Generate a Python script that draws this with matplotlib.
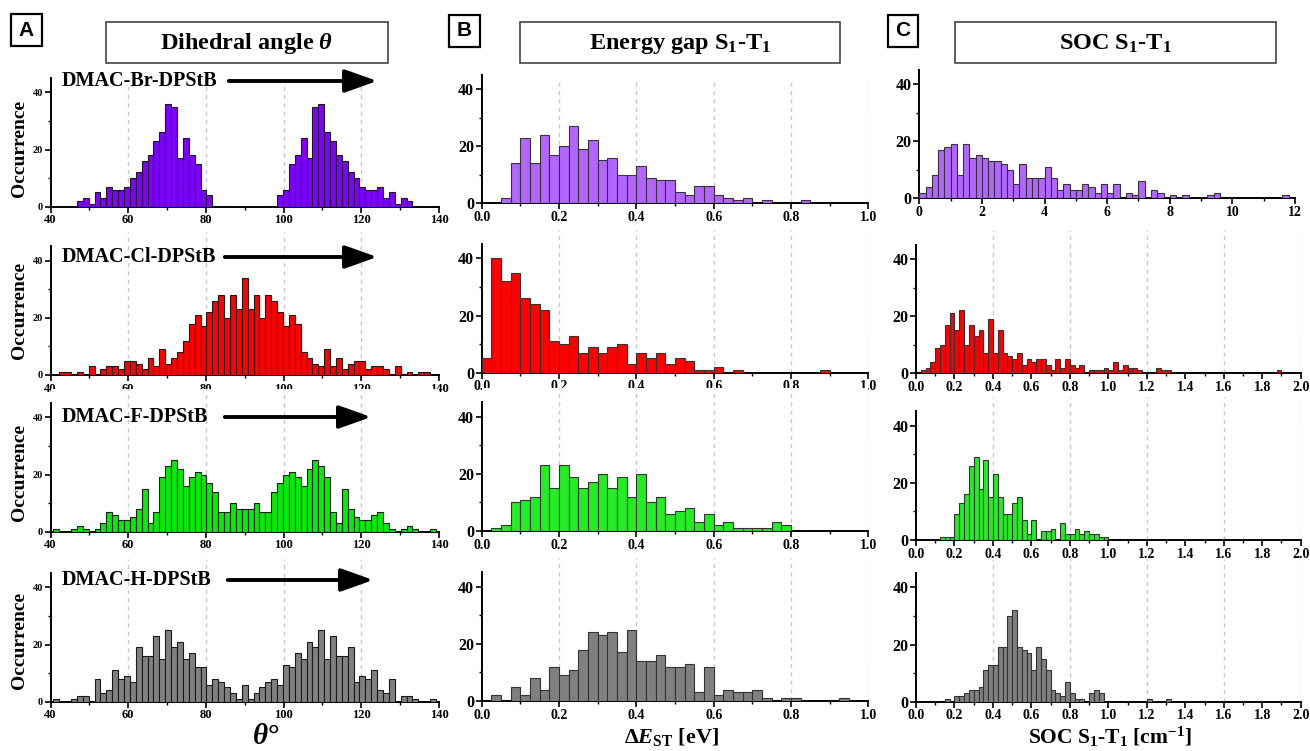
import numpy as np
import matplotlib
matplotlib.use("Agg")
import matplotlib.pyplot as plt
from matplotlib.patches import Rectangle, FancyArrowPatch
from matplotlib.ticker import MultipleLocator, FormatStrFormatter

# ---- data: histogram counts ---------------------------------------------
molecules = ["DMAC-Br-DPStB", "DMAC-Cl-DPStB", "DMAC-F-DPStB", "DMAC-H-DPStB"]

# dihedral angle, 65 bins starting at 40.75 deg, width ~1.515 deg
theta_bin0, theta_binw = 40.75, 1.515
theta_br = [0, 0, 0, 0, 2, 3, 1, 5, 3, 7, 6, 6, 7, 10, 12, 16, 18, 23, 26, 36, 35, 17, 24,
            18, 15, 6, 4, 0, 0, 0, 0, 0, 0, 0, 0, 0, 0, 0, 4, 6, 15, 18, 24, 17, 35, 36, 26,
            23, 18, 16, 12, 10, 7, 6, 6, 7, 3, 5, 1, 3, 2, 0, 0, 0, 0]
theta_cl = [0, 1, 1, 0, 1, 0, 3, 0, 2, 3, 3, 2, 5, 5, 4, 2, 6, 3, 9, 4, 6, 8, 12, 18, 21,
            17, 22, 26, 28, 20, 28, 23, 34, 23, 28, 20, 28, 26, 22, 17, 21, 18, 8, 6, 4, 3,
            9, 3, 6, 2, 4, 5, 5, 2, 3, 3, 2, 0, 3, 0, 1, 0, 1, 1, 0]
theta_f = [1, 0, 0, 1, 2, 1, 0, 1, 3, 7, 6, 4, 4, 5, 8, 15, 3, 7, 19, 23, 25, 22, 16, 19,
           21, 20, 17, 14, 7, 7, 10, 8, 8, 8, 10, 7, 7, 14, 17, 20, 21, 19, 16, 22, 25, 23,
           19, 7, 3, 15, 8, 5, 4, 4, 6, 7, 3, 1, 0, 1, 2, 1, 0, 0, 1]
theta_h = [1, 0, 0, 1, 2, 2, 0, 8, 3, 4, 11, 8, 9, 7, 19, 16, 16, 23, 15, 25, 19, 21, 15,
           17, 12, 12, 6, 8, 7, 5, 3, 1, 6, 1, 3, 5, 7, 8, 6, 13, 12, 17, 15, 21, 19, 25, 15,
           23, 16, 16, 19, 7, 9, 8, 11, 4, 3, 8, 0, 2, 2, 1, 0, 0, 1]

# energy gap S1-T1, 40 bins of 0.025 eV from 0
gap_bin0, gap_binw = 0.0, 0.025
gap_br = [0, 0, 2, 14, 23, 14, 24, 17, 20, 27, 19, 22, 15, 16, 10, 10, 13, 9, 8, 8, 4, 3,
          6, 6, 3, 2, 1, 2, 0, 1, 0, 0, 0, 1, 0, 0, 0, 0, 0, 0]
gap_cl = [5, 40, 32, 35, 26, 24, 22, 11, 10, 13, 7, 9, 7, 9, 10, 3, 7, 5, 7, 3, 5, 4, 1, 1,
          2, 0, 1, 0, 0, 0, 0, 0, 0, 0, 0, 1, 0, 0, 0, 0]
gap_f = [0, 1, 2, 10, 11, 12, 23, 15, 23, 19, 15, 17, 20, 15, 19, 12, 20, 10, 12, 6, 7, 8,
         3, 6, 2, 3, 1, 1, 1, 1, 3, 2, 0, 0, 0, 0, 0, 0, 0, 0]
gap_h = [0, 2, 0, 5, 2, 8, 4, 12, 9, 11, 18, 24, 23, 24, 17, 25, 14, 14, 16, 12, 12, 13, 3,
         12, 2, 4, 3, 3, 4, 1, 0, 1, 1, 0, 0, 0, 0, 1, 0, 0]

# SOC S1-T1: Br in 0.2 cm-1 bins up to 12, the others in 0.025 cm-1 bins up to 2
soc_br_bin0, soc_br_binw = 0.0, 0.2
soc_bin0, soc_binw = 0.0, 0.025
soc_br = [2, 4, 8, 17, 18, 19, 8, 19, 14, 15, 14, 13, 13, 12, 10, 5, 12, 7, 7, 7, 11, 7, 3,
          5, 3, 3, 5, 4, 2, 5, 2, 5, 0, 2, 1, 6, 0, 3, 2, 0, 1, 0, 1, 0, 0, 0, 1, 2, 0, 0,
          0, 0, 0, 0, 0, 0, 0, 0, 1, 0]
soc_cl = [0, 1, 2, 4, 9, 10, 17, 21, 15, 22, 10, 17, 13, 15, 7, 19, 7, 15, 7, 6, 5, 7, 3, 5,
          4, 5, 5, 3, 1, 5, 2, 5, 3, 2, 3, 0, 1, 1, 1, 2, 1, 4, 1, 3, 2, 2, 1, 0, 0, 0, 2, 1,
          1] + [0] * 22 + [1, 0, 0, 0, 0]
soc_f = [0, 0, 0, 0, 0, 1, 1, 1, 9, 13, 16, 26, 29, 18, 28, 15, 23, 15, 9, 9, 13, 15, 7, 2,
         7, 0, 3, 3, 4, 0, 6, 2, 2, 4, 2, 3, 2, 2, 1, 1] + [0] * 40
soc_h = [0, 0, 0, 0, 0, 0, 1, 0, 2, 2, 3, 4, 4, 5, 11, 13, 13, 19, 19, 30, 32, 19, 18, 17,
         11, 19, 15, 11, 4, 3, 2, 7, 3, 1, 1, 0, 3, 4, 3, 0, 0, 0, 0, 0, 0, 0, 0, 0, 1, 0,
         0, 0, 1] + [0] * 27

# ---- style ---------------------------------------------------------------
W, H = 1310, 751
PPC = 2.86          # pixels per count on every y axis
YTOP = 50

COLOR_A = ["#7f00ff", "#ff0000", "#00ee00", "#808080"]
COLOR_BC = ["#b266ff", "#ff0000", "#22ee22", "#808080"]
GRID = "#c8c8c8"

plt.rcParams.update({
    "font.family": ["Liberation Serif", "DejaVu Serif"],
    "font.weight": "bold",
    "mathtext.fontset": "custom",
    "mathtext.rm": "Liberation Serif:bold",
    "mathtext.it": "Liberation Serif:italic:bold",
    "mathtext.bf": "Liberation Serif:bold",
})

fig = plt.figure(figsize=(W / 100, H / 100), dpi=100)
fig.patch.set_facecolor("white")


def add_panel(x0, x1, y_zero):
    rect = [x0 / W, 1 - y_zero / H, (x1 - x0) / W, YTOP * PPC / H]
    return fig.add_axes(rect)


def draw_hist(ax, bin0, binw, counts, color, xlim, major, minor, fmt, grid, grid_top,
              ysize, xsize, edge="#1a1a1a"):
    lefts = bin0 + binw * np.arange(len(counts))
    ax.bar(lefts, counts, width=binw, align="edge", color=color, edgecolor=edge,
           linewidth=0.8, zorder=3)
    if grid:
        ax.vlines(grid, 0, grid_top, colors=GRID, linestyles=(0, (3, 3)), linewidth=1,
                  zorder=1)
    ax.set_xlim(*xlim)
    ax.set_ylim(0, YTOP)
    for s in ("top", "right"):
        ax.spines[s].set_visible(False)
    ax.spines["left"].set_bounds(0, 45)
    for s in ("left", "bottom"):
        ax.spines[s].set_linewidth(1.4)
    ax.xaxis.set_major_locator(MultipleLocator(major))
    ax.xaxis.set_minor_locator(MultipleLocator(minor))
    ax.xaxis.set_major_formatter(FormatStrFormatter(fmt))
    ax.set_yticks([0, 20, 40])
    ax.set_yticks([10, 30], minor=True)
    ax.tick_params(which="major", direction="out", length=4, width=1.2, pad=1.5)
    ax.tick_params(which="minor", direction="out", length=2, width=1)
    for lab in ax.get_yticklabels():
        lab.set_fontsize(ysize)
        lab.set_fontweight("bold")
    for lab in ax.get_xticklabels():
        lab.set_fontsize(xsize)
        lab.set_fontweight("bold")


# pixel geometry of the 12 panels
A_X = (50.5, 439)
B_X = (481.7, 868.3)
C1_X = (919.3, 1295)
C_X = (916, 1300.7)
A_ZERO = [206.7, 375, 531.7, 701.7]
B_ZERO = [203.3, 372.7, 531, 701]
C_ZERO = [198.3, 373.3, 540, 701.7]

theta_sets = [theta_br, theta_cl, theta_f, theta_h]
gap_sets = [gap_br, gap_cl, gap_f, gap_h]
soc_sets = [soc_br, soc_cl, soc_f, soc_h]

for i in range(4):
    gtop = 43 if i == 0 else YTOP
    ax = add_panel(*A_X, A_ZERO[i])
    draw_hist(ax, theta_bin0, theta_binw, theta_sets[i], COLOR_A[i], (40, 140), 20, 10,
              "%d", [60, 80, 100, 120], gtop, 7.5, 9)

    ax = add_panel(*B_X, B_ZERO[i])
    draw_hist(ax, gap_bin0, gap_binw, gap_sets[i], COLOR_BC[i], (0, 1.0), 0.2, 0.1,
              "%.1f", [0.2, 0.4, 0.6, 0.8, 1.0], gtop, 11.5, 10, edge="#333333")

    if i == 0:
        ax = add_panel(*C1_X, C_ZERO[i])
        draw_hist(ax, soc_br_bin0, soc_br_binw, soc_br, COLOR_BC[i], (0, 12), 2, 1,
                  "%d", None, gtop, 11.5, 10, edge="#333333")
    else:
        ax = add_panel(*C_X, C_ZERO[i])
        draw_hist(ax, soc_bin0, soc_binw, soc_sets[i], COLOR_BC[i], (0, 2.0), 0.2, 0.1,
                  "%.1f", [0.4, 0.8, 1.2, 1.6, 2.0], gtop, 11.5, 10, edge="#333333")


def fx(x):
    return x / W


def fy(y):
    return 1 - y / H


# panel letters and title boxes
for letter, (x0, y0, x1, y1) in zip("ABC", [(11, 14, 42, 46), (449, 15, 480, 47),
                                             (888, 15, 918, 47)]):
    fig.patches.append(Rectangle((fx(x0), fy(y1)), fx(x1 - x0), (y1 - y0) / H,
                                 transform=fig.transFigure, fill=False, lw=1.6,
                                 edgecolor="black"))
    fig.text(fx((x0 + x1) / 2), fy((y0 + y1) / 2), letter, ha="center", va="center",
             fontsize=15, fontweight="bold", family="Liberation Sans")

titles = [r"Dihedral angle $\theta$", r"Energy gap S$_1$-T$_1$", r"SOC S$_1$-T$_1$"]
title_boxes = [(106, 22, 388, 63), (520, 22, 840, 63), (955, 22, 1276, 63)]
for t, (x0, y0, x1, y1) in zip(titles, title_boxes):
    fig.patches.append(Rectangle((fx(x0), fy(y1)), fx(x1 - x0), (y1 - y0) / H,
                                 transform=fig.transFigure, fill=False, lw=1.1,
                                 edgecolor="#333333"))
    fig.text(fx((x0 + x1) / 2), fy((y0 + y1) / 2 + 1), t, ha="center", va="center",
             fontsize=17.5, fontweight="bold")

# molecule names with arrows in column A
name_y = [81, 257, 417, 580]
arrow_x = [(226, 380), (222, 380), (222, 374), (225, 376)]
for name, y, (xa, xb) in zip(molecules, name_y, arrow_x):
    fig.text(fx(62), fy(y), name, ha="left", va="center", fontsize=14.5, fontweight="bold")
    fig.patches.append(FancyArrowPatch((fx(xa), fy(y)), (fx(xb), fy(y)),
                                       transform=fig.transFigure,
                                       arrowstyle="-|>,head_length=0.9,head_width=0.32",
                                       mutation_scale=22, lw=2.8, color="black"))

# y labels
for y in [148, 310, 472, 640]:
    fig.text(fx(20), fy(y), "Occurrence", rotation=90, ha="center", va="center",
             fontsize=14, fontweight="bold")

# x labels
fig.text(fx(266), fy(736), r"$\theta$°", ha="center", va="center", fontsize=21,
         fontweight="bold")
fig.text(fx(672), fy(737), r"$\Delta E_{\mathrm{ST}}$ [eV]", ha="center", va="center",
         fontsize=16, fontweight="bold")
fig.text(fx(1110), fy(737), r"SOC S$_1$-T$_1$ [cm$^{-1}$]", ha="center", va="center",
         fontsize=15.5, fontweight="bold")

fig.savefig("out.png", dpi=100, facecolor="white")
